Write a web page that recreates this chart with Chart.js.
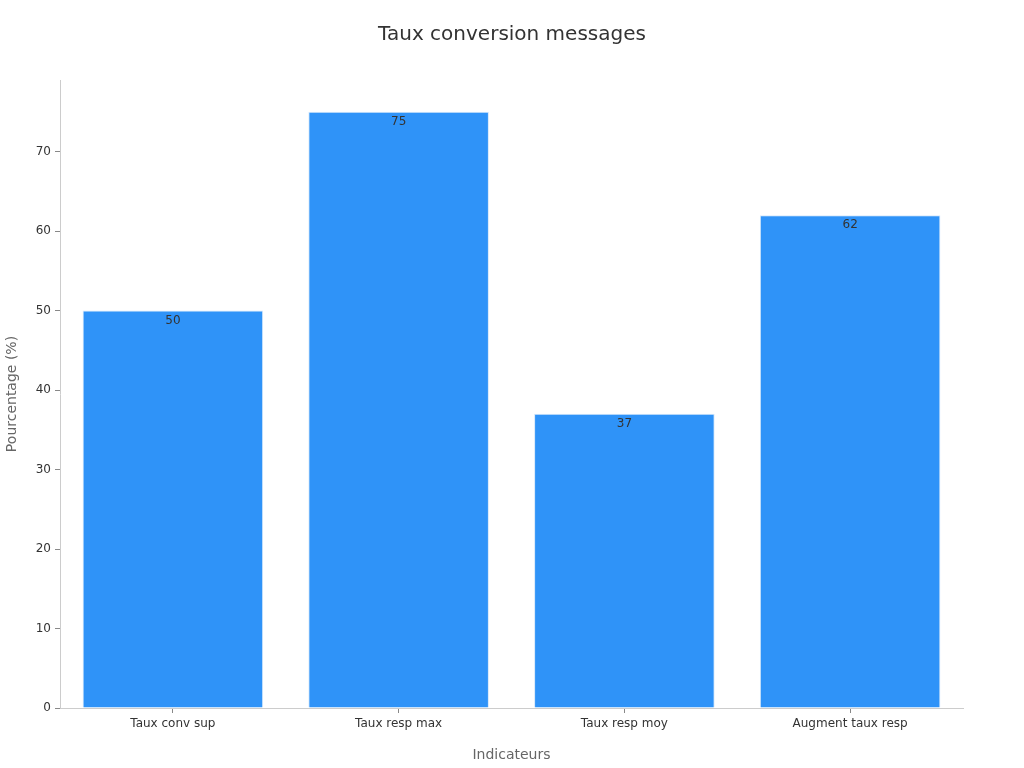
<!DOCTYPE html>
<html><head><meta charset="utf-8">
<script src="https://cdn.jsdelivr.net/npm/chart.js@4"></script>
<style>html,body{margin:0;padding:0;background:#fff}#wrap{width:1024px;height:768px}</style>
</head><body><div id="wrap"><canvas id="c" width="1024" height="768"></canvas></div>
<script>
const categories = ["Taux conv sup", "Taux resp max", "Taux resp moy", "Augment taux resp"];
const values = [50, 75, 37, 62];
const yTicks = [0, 10, 20, 30, 40, 50, 60, 70];
const titleText = 'Taux conversion messages';

const labelPlugin = {
  id: 'barLabels',
  afterDatasetsDraw(chart) {
    const ctx = chart.ctx;
    const meta = chart.getDatasetMeta(0);
    ctx.save();
    ctx.font = '12px "DejaVu Sans"';
    ctx.fillStyle = '#333';
    ctx.textAlign = 'center';
    ctx.textBaseline = 'middle';
    meta.data.forEach((bar, i) => {
      ctx.fillText(String(values[i]), bar.x, bar.y + 10);
    });
    ctx.restore();
  }
};

const titlePlugin = {
  id: 'pageTitle',
  afterDraw(chart) {
    const ctx = chart.ctx;
    ctx.save();
    ctx.font = '20px "DejaVu Sans"';
    ctx.fillStyle = '#333';
    ctx.textAlign = 'center';
    ctx.textBaseline = 'middle';
    ctx.fillText(titleText, chart.width / 2, 35);
    ctx.restore();
  }
};

new Chart(document.getElementById('c'), {
  type: 'bar',
  data: {
    labels: categories,
    datasets: [{
      data: values,
      backgroundColor: '#2f93f8',
      borderColor: '#d6e8fb',
      borderWidth: 1,
      barPercentage: 0.8,
      categoryPercentage: 1.0
    }]
  },
  options: {
    responsive: false,
    animation: false,
    devicePixelRatio: 1,
    layout: { padding: { left: 0, right: 61, top: 80, bottom: 0 } },
    plugins: {
      legend: { display: false },
      tooltip: { enabled: false },
      title: { display: false }
    },
    scales: {
      x: {
        grid: { display: true, drawOnChartArea: false, drawTicks: true, tickLength: 5, color: '#888', offset: false },
        border: { display: true, color: '#ccc' },
        ticks: { color: '#333', font: { family: 'DejaVu Sans', size: 12 }, padding: 4 },
        title: { display: true, text: 'Indicateurs', color: '#666', font: { family: 'DejaVu Sans', size: 14 }, padding: { top: 8 } },
        afterFit(s) { s.height = 60; }
      },
      y: {
        min: 0,
        max: 79,
        grid: { display: true, drawOnChartArea: false, drawTicks: true, tickLength: 5, color: '#888' },
        border: { display: true, color: '#ccc' },
        afterBuildTicks(s) { s.ticks = yTicks.map(v => ({ value: v })); },
        ticks: { color: '#333', font: { family: 'DejaVu Sans', size: 12 }, padding: 4 },
        title: { display: true, text: 'Pourcentage (%)', color: '#666', font: { family: 'DejaVu Sans', size: 14 }, padding: { bottom: 8 } },
        afterFit(s) { s.width = 60; }
      }
    }
  },
  plugins: [labelPlugin, titlePlugin]
});
</script></body></html>
